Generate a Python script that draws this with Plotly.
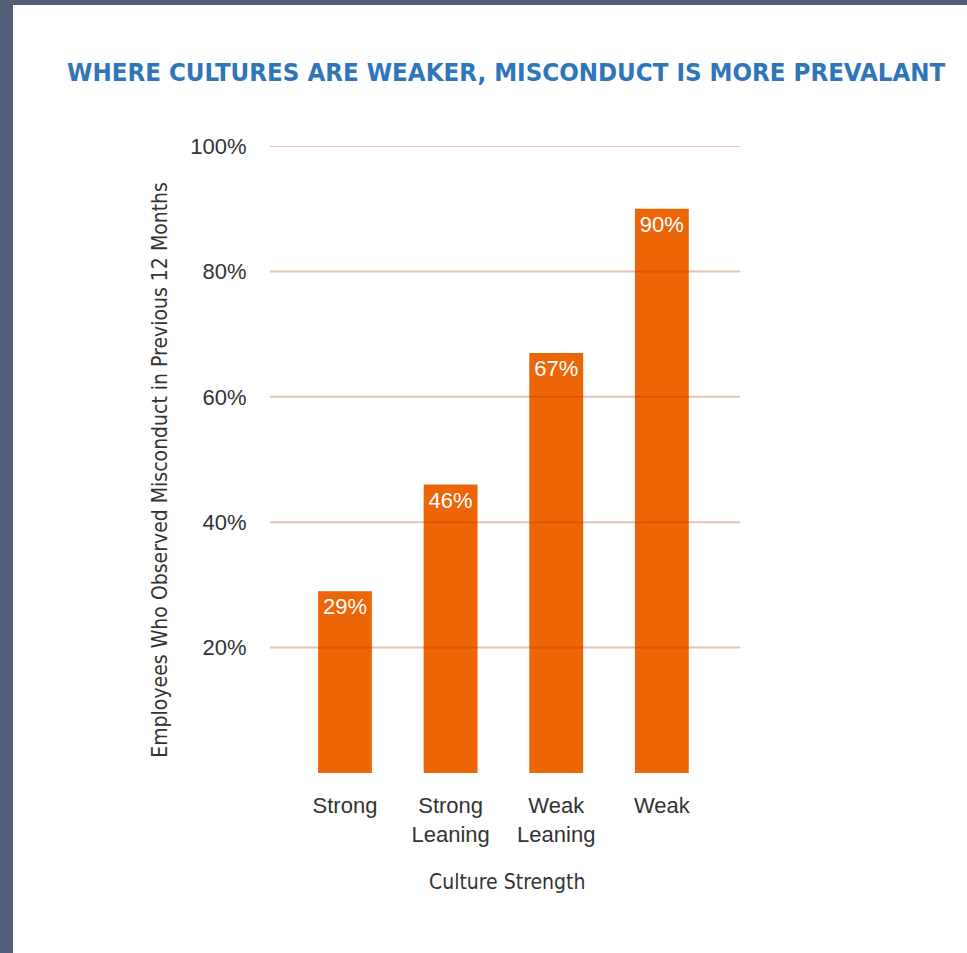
import plotly.graph_objects as go

categories = ["Strong", "Strong<br>Leaning", "Weak<br>Leaning", "Weak"]
values = [29, 46, 67, 90]
tick_vals = [20, 40, 60, 80, 100]
tick_text = ["20%", "40%", "60%", "80%", "100%"]

title_text = "WHERE CULTURES ARE WEAKER, MISCONDUCT IS MORE PREVALANT"
y_title = "Employees Who Observed Misconduct in Previous 12 Months"
x_title = "Culture Strength"

BAR = "#EC6608"
TXT = "#333333"
FONT = "Liberation Sans, Arial, sans-serif"
NARROW = "Liberation Sans Narrow, DejaVu Sans Condensed, Arial, sans-serif"

fig = go.Figure()
fig.add_trace(go.Bar(
    x=list(range(len(categories))),
    y=values,
    marker=dict(color=BAR, line=dict(width=0)),
    width=0.51,
    text=[f"{v}%" for v in values],
    textposition="inside",
    insidetextanchor="end",
    textangle=0,
    insidetextfont=dict(family=FONT, size=22, color="white"),
    cliponaxis=False,
    hoverinfo="skip",
))

# gridlines drawn above the bars, one per tick value
for tv in tick_vals:
    fig.add_shape(type="line", xref="paper", yref="y", x0=0, x1=1, y0=tv, y1=tv,
                  line=dict(color="rgba(190,50,0,0.3)", width=2), layer="above")

# dark frame on left and top edges
fig.add_shape(type="rect", xref="paper", yref="paper",
              x0=-270/470, x1=(13-270)/470, y0=-2, y1=3,
              fillcolor="#535E78", line=dict(width=0), layer="above")
fig.add_shape(type="rect", xref="paper", yref="paper",
              x0=-270/470, x1=3, y0=(773.5-5)/627.5, y1=3,
              fillcolor="#535E78", line=dict(width=0), layer="above")

fig.add_annotation(text=y_title, textangle=-90, xref="paper", yref="paper",
                   x=(160-270)/470, y=(773.5-470)/627.5, showarrow=False,
                   font=dict(family=NARROW, size=21, color=TXT),
                   xanchor="center", yanchor="middle")
fig.add_annotation(text=x_title, xref="paper", yref="paper",
                   x=(507-270)/470, y=(773.5-883)/627.5, showarrow=False,
                   font=dict(family=NARROW, size=21, color=TXT),
                   xanchor="center", yanchor="middle")

fig.update_layout(
    width=967, height=953,
    margin=dict(l=270, r=227, t=146, b=179.5, autoexpand=False),
    paper_bgcolor="white", plot_bgcolor="white",
    showlegend=False,
    title=dict(text=f"<b>{title_text}</b>", xref="container", yref="container",
               x=67/967, y=1-72/953, xanchor="left", yanchor="middle",
               font=dict(family=NARROW, size=25.6, color="#2F75B9")),
    xaxis=dict(range=[-0.71, 3.74], tickvals=list(range(len(categories))),
               ticktext=categories, showgrid=False, zeroline=False, showline=False,
               ticks="outside", ticklen=13, tickcolor="rgba(0,0,0,0)",
               tickfont=dict(family=FONT, size=22, color=TXT), fixedrange=True),
    yaxis=dict(range=[0, 100], tickvals=tick_vals, ticktext=tick_text,
               showgrid=False, zeroline=False, showline=False,
               ticks="outside", ticklen=18, tickcolor="rgba(0,0,0,0)",
               tickfont=dict(family=FONT, size=22, color=TXT), fixedrange=True),
)

fig.write_html("out.html", config={"displayModeBar": False},
               post_script="document.body.style.margin='0';")
